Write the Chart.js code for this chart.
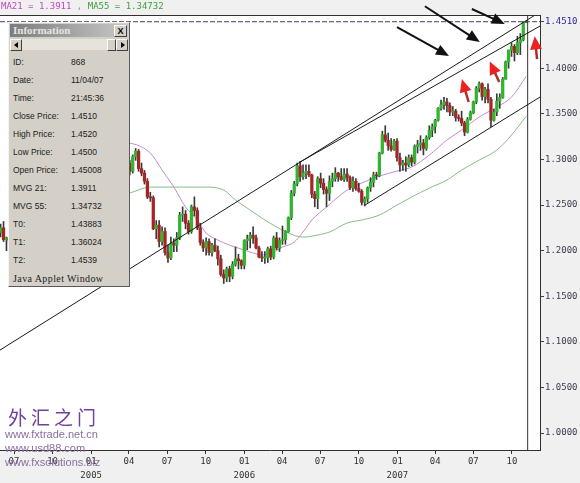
<!DOCTYPE html>
<html>
<head>
<meta charset="utf-8">
<script src="https://cdn.jsdelivr.net/npm/chart.js@4.4.0/dist/chart.umd.min.js"></script>
<style>
body { margin: 0; background: #f0f0f0; }
#wrap { position: relative; width: 580px; height: 483px; overflow: hidden; }
#head { position: absolute; left: 1px; top: 1px; font: 9px "DejaVu Sans Mono", monospace; white-space: pre; }
#info { position: absolute; left: 8px; top: 22px; width: 120px; height: 263px; background: #d4d0c8;
  border: 1px solid; border-color: #f4f4f4 #5a5a5a #5a5a5a #f4f4f4; font: 8.5px "Liberation Sans", Arial, sans-serif; color: #202020; }
#info .title { position: absolute; left: 1px; top: 1px; right: 1px; height: 13px; background: linear-gradient(to right, #7c7c7c, #c8c8c8);
  color: #e4e4e4; font: bold 11px "Liberation Serif", serif; line-height: 13px; padding-left: 3px; }
#info .xbtn { position: absolute; right: 1px; top: 1px; width: 11px; height: 10px; background: #d4d0c8; border: 1px solid;
  border-color: #fff #404040 #404040 #fff; color: #000; font: bold 9px "Liberation Sans", sans-serif; line-height: 10px; text-align: center; }
#info .scroll { position: absolute; left: 1px; top: 16px; right: 1px; height: 11px; background: #e6e3dc; }
#info .btn { position: absolute; top: 0; width: 10px; height: 10px; background: #d4d0c8; border: 1px solid; border-color: #fff #404040 #404040 #fff; }
#info .tri { position: absolute; top: 2px; width: 0; height: 0; border-top: 3px solid transparent; border-bottom: 3px solid transparent; }
#info .row { position: absolute; left: 4px; height: 18px; line-height: 18px; white-space: nowrap; }
#info .val { position: absolute; left: 62px; height: 18px; line-height: 18px; white-space: nowrap; }
#info .java { position: absolute; left: 4px; top: 250px; font: 10px "Liberation Serif", serif; letter-spacing: 0.4px; color: #202020; }
.wm { position: absolute; left: 5px; white-space: nowrap; }
</style>
</head>
<body>
<div id="wrap">
  <canvas id="myChart"></canvas>
  <div id="head"><span style="color:#c048c0">MA21 = 1.3911</span><span style="color:#8a8a8a"> , </span><span style="color:#3aa03a">MA55 = 1.34732</span></div>
  <div class="wm" style="left:8px;top:403px;font:19px 'Noto Sans CJK SC',sans-serif;letter-spacing:4px;color:#7040a0">外汇之门</div>
  <div class="wm" style="top:428px;font:11px 'Liberation Sans',Arial,sans-serif;color:#8a6ea0">www.fxtrade.net.cn</div>
  <div class="wm" style="top:442px;font:11px 'Liberation Sans',Arial,sans-serif;color:#8a6ea0">www.usd88.com</div>
  <div class="wm" style="top:456px;font:11px 'Liberation Sans',Arial,sans-serif;color:#8a6ea0">www.fxsolutions.biz</div>
  <div id="info">
    <div class="title">Information<div class="xbtn">X</div></div>
    <div class="scroll">
      <div class="btn" style="left:0"><div class="tri" style="left:3px;border-right:4px solid #000"></div></div>
      <div class="btn" style="left:97px;width:7px"></div>
      <div class="btn" style="right:0"><div class="tri" style="left:4px;border-left:4px solid #000"></div></div>
    </div>
  </div>
</div>
<script>
// weekly EUR/USD candles, first week starts 2004-05-30
var firstWeek = '2004-05-30';

var opens = [1.2200,1.2250,1.2120,1.2140,1.2100,1.2210,1.2380,1.2400,1.2230,1.2040,
 1.2280,1.2300,1.2270,1.2070,1.2170,1.2220,1.2180,1.2270,1.2410,1.2380,
 1.2400,1.2550,1.2700,1.2880,1.2970,1.3000,1.3250,1.3380,1.3280,1.3370,
 1.3420,1.3560,1.3110,1.3170,1.3070,1.3040,1.2850,1.2810,1.3060,1.3250,
 1.3240,1.3450,1.3420,1.2970,1.2960,1.2870,1.3030,1.3090,1.2900,1.2850,
 1.2760,1.2590,1.2580,1.2240,1.2280,1.2100,1.2210,1.1980,1.1920,1.2080,
 1.2060,1.2140,1.2390,1.2400,1.2300,1.2210,1.2480,1.2440,1.2250,1.2090,
 1.2030,1.2100,1.1980,1.2060,1.2000,1.1910,1.1740,1.1700,1.1800,1.1720,
 1.1850,1.1910,1.1890,1.1840,1.2110,1.2130,1.2170,1.2140,1.2030,1.1930,
 1.1920,1.1920,1.2020,1.1930,1.2140,1.2030,1.2110,1.2120,1.2210,1.2360,
 1.2630,1.2730,1.2930,1.2810,1.2850,1.2870,1.2830,1.2620,1.2570,1.2790,
 1.2740,1.2670,1.2630,1.2760,1.2790,1.2850,1.2810,1.2780,1.2840,1.2800,
 1.2690,1.2760,1.2680,1.2650,1.2530,1.2570,1.2690,1.2750,1.2830,1.2820,
 1.3070,1.3270,1.3210,1.3150,1.3110,1.3200,1.3020,1.2940,1.2960,1.2940,
 1.3020,1.2970,1.3140,1.3160,1.3180,1.3120,1.3240,1.3320,1.3360,1.3430,
 1.3560,1.3600,1.3630,1.3590,1.3520,1.3530,1.3460,1.3450,1.3400,1.3300,
 1.3440,1.3510,1.3630,1.3780,1.3830,1.3690,1.3770,1.3660,1.3430,1.3520,
 1.3640,1.3680,1.3880,1.4070,1.4200,1.4240,1.4170,1.4280,1.4310,1.45008];

var highs = [1.2290,1.2320,1.2150,1.2200,1.2230,1.2400,1.2440,1.2420,1.2280,1.2310,
 1.2330,1.2370,1.2280,1.2200,1.2250,1.2300,1.2330,1.2430,1.2460,1.2420,
 1.2560,1.2790,1.2900,1.3030,1.3060,1.3280,1.3390,1.3470,1.3440,1.3470,
 1.3670,1.3580,1.3280,1.3200,1.3120,1.3110,1.2880,1.3120,1.3280,1.3310,
 1.3480,1.3470,1.3440,1.3030,1.2990,1.3050,1.3120,1.3110,1.2960,1.2880,
 1.2790,1.2640,1.2600,1.2330,1.2330,1.2260,1.2250,1.2060,1.2150,1.2130,
 1.2200,1.2420,1.2480,1.2440,1.2330,1.2500,1.2590,1.2470,1.2300,1.2120,
 1.2140,1.2130,1.2080,1.2130,1.2050,1.1950,1.1790,1.1820,1.1830,1.1880,
 1.2040,1.1960,1.1900,1.2120,1.2170,1.2200,1.2260,1.2170,1.2050,1.1990,
 1.1990,1.2040,1.2050,1.2160,1.2200,1.2140,1.2270,1.2220,1.2370,1.2660,
 1.2760,1.2960,1.2980,1.2940,1.2940,1.2940,1.2840,1.2650,1.2810,1.2850,
 1.2790,1.2700,1.2820,1.2850,1.2910,1.2860,1.2900,1.2900,1.2900,1.2820,
 1.2810,1.2790,1.2740,1.2670,1.2590,1.2700,1.2800,1.2860,1.2860,1.3080,
 1.3310,1.3370,1.3290,1.3230,1.3220,1.3230,1.3070,1.2990,1.3030,1.3050,
 1.3050,1.3160,1.3210,1.3260,1.3220,1.3260,1.3370,1.3390,1.3440,1.3570,
 1.3650,1.3680,1.3670,1.3620,1.3580,1.3550,1.3490,1.3530,1.3420,1.3460,
 1.3530,1.3640,1.3800,1.3850,1.3840,1.3790,1.3830,1.3680,1.3550,1.3720,
 1.3720,1.3900,1.4080,1.4200,1.4280,1.4260,1.4350,1.4380,1.4510,1.4520];

var lows = [1.2150,1.2100,1.2000,1.2060,1.2080,1.2200,1.2300,1.2200,1.2000,1.2020,
 1.2180,1.2210,1.2050,1.2010,1.2050,1.2130,1.2170,1.2250,1.2290,1.2300,
 1.2360,1.2520,1.2680,1.2850,1.2920,1.2990,1.3200,1.3180,1.3220,1.3330,
 1.3410,1.3070,1.3050,1.2960,1.2940,1.2820,1.2750,1.2800,1.3030,1.3060,
 1.3230,1.3250,1.2930,1.2870,1.2830,1.2850,1.2990,1.2870,1.2820,1.2730,
 1.2570,1.2540,1.2230,1.2130,1.2040,1.2060,1.1950,1.1870,1.1900,1.1990,
 1.1990,1.2120,1.2320,1.2240,1.2180,1.2190,1.2380,1.2230,1.2060,1.1990,
 1.1950,1.1950,1.1940,1.1990,1.1840,1.1720,1.1640,1.1660,1.1660,1.1690,
 1.1830,1.1800,1.1800,1.1800,1.2010,1.2030,1.2080,1.2020,1.1920,1.1880,
 1.1860,1.1870,1.1900,1.1910,1.2010,1.1990,1.2070,1.2070,1.2200,1.2340,
 1.2600,1.2710,1.2760,1.2780,1.2790,1.2810,1.2580,1.2480,1.2460,1.2690,
 1.2620,1.2480,1.2550,1.2700,1.2760,1.2760,1.2770,1.2760,1.2760,1.2670,
 1.2650,1.2660,1.2640,1.2500,1.2490,1.2530,1.2650,1.2700,1.2780,1.2810,
 1.3060,1.3190,1.3100,1.3090,1.3100,1.2980,1.2870,1.2880,1.2870,1.2920,
 1.2930,1.2950,1.3070,1.3100,1.3050,1.3100,1.3220,1.3250,1.3290,1.3420,
 1.3540,1.3550,1.3520,1.3480,1.3480,1.3420,1.3420,1.3370,1.3260,1.3290,
 1.3430,1.3500,1.3610,1.3740,1.3650,1.3620,1.3620,1.3360,1.3420,1.3480,
 1.3560,1.3670,1.3880,1.4000,1.4130,1.4080,1.4150,1.4150,1.4300,1.4500];

var closes = [1.2250,1.2120,1.2140,1.2100,1.2210,1.2380,1.2400,1.2230,1.2040,1.2280,
 1.2300,1.2270,1.2070,1.2170,1.2220,1.2180,1.2270,1.2410,1.2380,1.2400,
 1.2550,1.2700,1.2880,1.2970,1.3000,1.3250,1.3380,1.3280,1.3370,1.3420,
 1.3560,1.3110,1.3170,1.3070,1.3040,1.2850,1.2810,1.3060,1.3250,1.3240,
 1.3450,1.3420,1.2970,1.2960,1.2870,1.3030,1.3090,1.2900,1.2850,1.2760,
 1.2590,1.2580,1.2240,1.2280,1.2100,1.2210,1.1980,1.1920,1.2080,1.2060,
 1.2140,1.2390,1.2400,1.2300,1.2210,1.2480,1.2440,1.2250,1.2090,1.2030,
 1.2100,1.1980,1.2060,1.2000,1.1910,1.1740,1.1700,1.1800,1.1720,1.1850,
 1.1910,1.1890,1.1840,1.2110,1.2130,1.2170,1.2140,1.2030,1.1930,1.1920,
 1.1920,1.2020,1.1930,1.2140,1.2030,1.2110,1.2120,1.2210,1.2360,1.2630,
 1.2730,1.2930,1.2810,1.2850,1.2870,1.2830,1.2620,1.2570,1.2790,1.2740,
 1.2670,1.2630,1.2760,1.2790,1.2850,1.2810,1.2780,1.2840,1.2800,1.2690,
 1.2760,1.2680,1.2650,1.2530,1.2570,1.2690,1.2750,1.2830,1.2820,1.3070,
 1.3270,1.3210,1.3150,1.3110,1.3200,1.3020,1.2940,1.2960,1.2940,1.3020,
 1.2970,1.3140,1.3160,1.3180,1.3120,1.3240,1.3320,1.3360,1.3430,1.3560,
 1.3600,1.3630,1.3590,1.3520,1.3530,1.3460,1.3450,1.3400,1.3300,1.3440,
 1.3510,1.3630,1.3780,1.3830,1.3690,1.3770,1.3660,1.3430,1.3520,1.3640,
 1.3680,1.3880,1.4070,1.4200,1.4240,1.4170,1.4280,1.4310,1.4500,1.4510];

// moving averages (week index, value)
var ma21Weeks = [40,44,51,55,59,63,67,70,74,78,81,85,89,93,96,100,103,106,111,118,123,129,135,140,146,152,157,163,169,174,179];
var ma21Values = [1.3190,1.3180,1.3070,1.2884,1.2697,1.2478,1.2336,1.2193,1.2116,1.2061,1.2028,1.1985,1.1952,1.1985,1.2039,1.2094,1.2204,1.2336,1.2478,1.2664,1.2741,1.2818,1.2873,1.2917,1.3048,1.3213,1.3322,1.3465,1.3575,1.3684,1.3911];
var ma55Weeks = [40,44,51,61,70,76,80,85,89,94,98,103,108,112,118,123,129,135,140,146,152,157,163,169,174,179];
var ma55Values = [1.2600,1.2632,1.2697,1.2697,1.2697,1.2664,1.2555,1.2445,1.2357,1.2259,1.2193,1.2149,1.2171,1.2204,1.2303,1.2336,1.2390,1.2500,1.2588,1.2686,1.2774,1.2884,1.2993,1.3103,1.3268,1.34732];

// trend lines T2, T0, T1 (week, price)
var trendStart = [[-0.2, 1.0910], [101.9, 1.2971], [124.1, 1.2500]];
var trendEnd = [[183.7, 1.4617], [183.7, 1.4463], [183.7, 1.3684]];
var lastPrice = 1.4510;
var cursorWeek = 179.5;

var tickDates = ['2004-07-01','2004-10-01','2005-01-01','2005-04-01','2005-07-01','2005-10-01','2006-01-01',
 '2006-04-01','2006-07-01','2006-10-01','2007-01-01','2007-04-01','2007-07-01','2007-10-01'];
var tickMonths = ['07','10','01','04','07','10','01','04','07','10','01','04','07','10'];
var tickYears = ['','','2005','','','','2006','','','','2007','','',''];
var priceTicks = [1.00,1.05,1.10,1.15,1.20,1.25,1.30,1.35,1.40,1.451];

// arrows (tail, tip) in week / price
var blackArrows = [[[135.0,1.4452],[152.7,1.4134]], [[144.5,1.4680],[163.2,1.4287]], [[160.5,1.4650],[171.7,1.4485]]];
var redArrows = [[[159.4,1.3630],[157.1,1.3880]], [[169.8,1.3850],[166.6,1.4075]], [[182.7,1.4100],[181.9,1.4350]]];

var infoLabels = ['ID:','Date:','Time:','Close Price:','High Price:','Low Price:','Open Price:','MVG 21:','MVG 55:','T0:','T1:','T2:'];
var infoValues = ['868','11/04/07','21:45:36','1.4510','1.4520','1.4500','1.45008','1.3911','1.34732','1.43883','1.36024','1.4539'];

var info = document.getElementById('info');
infoLabels.forEach(function (l, i) {
  var a = document.createElement('div'); a.className = 'row'; a.style.top = (30 + i * 18) + 'px'; a.textContent = l; info.appendChild(a);
  var b = document.createElement('div'); b.className = 'val'; b.style.top = (30 + i * 18) + 'px'; b.textContent = infoValues[i]; info.appendChild(b);
});
var j = document.createElement('div'); j.className = 'java'; j.textContent = 'Java Applet Window'; info.appendChild(j);

function weekOf(d) {
  return (Date.parse(d) - Date.parse(firstWeek)) / (7 * 86400000);
}

var weeks = closes.map(function (c, i) { return i; });
var upCol = '#2fb52f', downCol = '#a82424';

function arrow(ctx, x1, y1, x2, y2, shaft, headCol, head, hw, lw) {
  var a = Math.atan2(y2 - y1, x2 - x1);
  ctx.strokeStyle = shaft; ctx.lineWidth = lw;
  ctx.beginPath(); ctx.moveTo(x1, y1);
  ctx.lineTo(x2 - head * 0.8 * Math.cos(a), y2 - head * 0.8 * Math.sin(a)); ctx.stroke();
  ctx.fillStyle = headCol; ctx.beginPath();
  ctx.moveTo(x2, y2);
  ctx.lineTo(x2 - head * Math.cos(a) + hw * Math.sin(a), y2 - head * Math.sin(a) - hw * Math.cos(a));
  ctx.lineTo(x2 - head * Math.cos(a) - hw * Math.sin(a), y2 - head * Math.sin(a) + hw * Math.cos(a));
  ctx.closePath(); ctx.fill();
}

var frame = {
  id: 'frame',
  beforeDraw: function (chart) {
    var c = chart.ctx, a = chart.chartArea;
    c.save();
    c.fillStyle = '#f0f0f0'; c.fillRect(0, 0, chart.width, chart.height);
    c.fillStyle = '#ffffff'; c.fillRect(a.left, a.top, a.right - a.left, a.bottom - a.top);
    c.restore();
  },
  afterDraw: function (chart) {
    var c = chart.ctx, a = chart.chartArea, x = chart.scales.x, y = chart.scales.y;
    c.save();
    c.strokeStyle = '#303030'; c.lineWidth = 1;
    c.beginPath(); c.moveTo(a.left, a.top + 0.5); c.lineTo(a.right, a.top + 0.5); c.stroke();
    blackArrows.forEach(function (p) {
      arrow(c, x.getPixelForValue(p[0][0]), y.getPixelForValue(p[0][1]), x.getPixelForValue(p[1][0]), y.getPixelForValue(p[1][1]), '#111', '#111', 13, 5.5, 2);
    });
    redArrows.forEach(function (p) {
      arrow(c, x.getPixelForValue(p[0][0]), y.getPixelForValue(p[0][1]), x.getPixelForValue(p[1][0]), y.getPixelForValue(p[1][1]), '#a83030', '#ee2020', 13, 6, 2.5);
    });
    c.restore();
  }
};

var datasets = [];
trendStart.forEach(function (s, i) {
  datasets.push({ type: 'line', data: [{ x: s[0], y: s[1] }, { x: trendEnd[i][0], y: trendEnd[i][1] }],
    borderColor: '#1a1a1a', borderWidth: 1, pointRadius: 0, order: 0 });
});
datasets.push({ type: 'line', data: [{ x: -0.2, y: lastPrice }, { x: 183.7, y: lastPrice }],
  borderColor: '#54346a', borderWidth: 1, borderDash: [5, 2], pointRadius: 0, order: 0 });
datasets.push({ type: 'line', data: [{ x: cursorWeek, y: 0.95 }, { x: cursorWeek, y: 1.5 }],
  borderColor: '#333333', borderWidth: 1, pointRadius: 0, order: 0 });
datasets.push({ type: 'bar', data: weeks.map(function (w, i) { return { x: w, y: [opens[i], closes[i]] }; }),
  backgroundColor: weeks.map(function (w, i) { return closes[i] >= opens[i] ? upCol : downCol; }),
  barThickness: 2.6, minBarLength: 1, grouped: false, order: 1 });
datasets.push({ type: 'bar', data: weeks.map(function (w, i) { return { x: w, y: [lows[i], highs[i]] }; }),
  backgroundColor: '#3a3a3a', barThickness: 1, grouped: false, order: 2 });
datasets.push({ type: 'line', data: ma21Weeks.map(function (w, i) { return { x: w, y: ma21Values[i] }; }),
  borderColor: '#c58ccc', borderWidth: 1, pointRadius: 0, cubicInterpolationMode: 'monotone', order: 3 });
datasets.push({ type: 'line', data: ma55Weeks.map(function (w, i) { return { x: w, y: ma55Values[i] }; }),
  borderColor: '#86be86', borderWidth: 1, pointRadius: 0, cubicInterpolationMode: 'monotone', order: 3 });

var ctx = document.getElementById('myChart');
var myChart = new Chart(ctx, {
  type: 'bar',
  data: { datasets: datasets },
  plugins: [frame],
  options: {
    responsive: true,
    maintainAspectRatio: false,
    animation: false,
    layout: { padding: { left: 0, top: 15, right: 0, bottom: 0 } },
    plugins: { legend: { display: false }, tooltip: { enabled: false } },
    scales: {
      x: {
        type: 'linear', min: -0.2, max: 183.7, offset: false,
        grid: { drawOnChartArea: false, offset: false, tickLength: 4, color: '#333' },
        border: { color: '#303030' },
        afterBuildTicks: function (s) { s.ticks = tickDates.map(function (d) { return { value: weekOf(d) }; }); },
        afterFit: function (s) { s.height = 33; },
        ticks: {
          autoSkip: false, maxRotation: 0, padding: 1, color: '#333',
          font: { family: 'DejaVu Sans Mono', size: 9, lineHeight: 1.55 },
          callback: function (v, i) { return tickYears[i] ? [tickMonths[i], tickYears[i]] : tickMonths[i]; }
        }
      },
      y: {
        position: 'right', min: 0.9814, max: 1.4584,
        grid: { drawOnChartArea: false, tickLength: 4, color: '#444' },
        border: { color: '#303030' },
        afterBuildTicks: function (s) { s.ticks = priceTicks.map(function (v) { return { value: v }; }); },
        afterFit: function (s) { s.width = 40; },
        ticks: {
          padding: 1,
          font: { family: 'DejaVu Sans Mono', size: 9 },
          color: function (c) { return c.tick && c.tick.value > 1.44 ? '#2828a0' : '#3a3a50'; },
          callback: function (v) { return v.toFixed(4); }
        }
      }
    }
  }
});
</script>
</body>
</html>
